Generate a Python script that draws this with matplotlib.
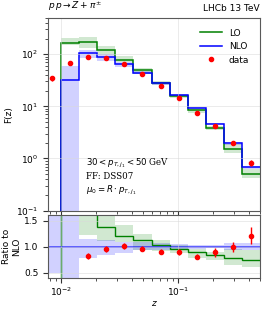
import numpy as np
import matplotlib
matplotlib.use("Agg")
import matplotlib.pyplot as plt
from matplotlib.lines import Line2D

# bin edges in z (log spaced)
edges = [0.00701, 0.01, 0.01427, 0.02036, 0.02906, 0.04147, 0.05918,
         0.08445, 0.1205, 0.172, 0.2454, 0.3502, 0.5]

# NLO prediction + scale band
nlo = [-15, 32.4, 106, 87.5, 64, 43.5, 27.5, 16.3, 9.4, 4.67, 1.97, 0.68]
nlo_lo = [-30, -10, 83, 74, 56, 41, 25.9, 15.6, 9.0, 4.53, 1.85, 0.63]
nlo_hi = [-7.5, 58.6, 122, 99, 70, 47, 29.2, 17.0, 9.7, 4.81, 2.09, 0.73]

# LO prediction + scale band
lo = [0, 161, 173, 121, 77, 49, 28.3, 15.6, 8.4, 3.92, 1.54, 0.51]
lo_lo = [0, 150, 129, 97, 70, 41, 25.3, 14.2, 7.3, 3.5, 1.26, 0.42]
lo_hi = [0, 207, 216, 145, 91, 54, 30.8, 16.8, 9.0, 4.2, 1.87, 0.63]

# LHCb data
data = [34.8, 68, 87, 84, 64.6, 41.8, 24.7, 14.5, 7.6, 4.16, 1.97, 0.82]
data_err = [4.2, 6.8, 6.0, 5.0, 3.6, 2.2, 1.3, 0.93, 0.51, 0.38, 0.19, 0.11]

edges = np.array(edges)
nlo, nlo_lo, nlo_hi = map(np.array, (nlo, nlo_lo, nlo_hi))
lo, lo_lo, lo_hi = map(np.array, (lo, lo_lo, lo_hi))
data, data_err = np.array(data), np.array(data_err)
centers = np.sqrt(edges[:-1] * edges[1:])

plt.rcParams["font.size"] = 6.5

fig = plt.figure(figsize=(2.67, 3.12), dpi=100)
ax = fig.add_axes([0.18, 0.325, 0.794, 0.618])
rax = fig.add_axes([0.18, 0.109, 0.794, 0.201], sharex=ax)

# ---- main panel
ax.set_xscale("log")
ax.set_yscale("log")
ax.stairs(lo_hi, edges, baseline=lo_lo, fill=True, color="green", alpha=0.18, lw=0)
ax.stairs(nlo_hi, edges, baseline=nlo_lo, fill=True, color="blue", alpha=0.18, lw=0)
ax.stairs(lo, edges, baseline=None, color="green", lw=1.1)
ax.stairs(nlo, edges, baseline=None, color="blue", lw=1.1)
ax.errorbar(centers, data, yerr=data_err, fmt="o", color="red", ms=3,
            elinewidth=1, capsize=0)

ax.set_xlim(0.00774, 0.5)
ax.set_ylim(0.1, 500)
ax.set_ylabel("F(z)", labelpad=2)
ax.grid(True, which="major", color="0.85", lw=0.6, alpha=0.6)
ax.tick_params(labelbottom=False)

handles = [Line2D([], [], color="green", lw=1.1),
           Line2D([], [], color="blue", lw=1.1),
           Line2D([], [], color="red", marker="o", ms=3, ls="none")]
ax.legend(handles, ["LO", "NLO", "data"], loc="upper right", frameon=False,
          fontsize=6.5, handlelength=2.4, borderaxespad=0.8)

ax.text(0.18, 0.28,
        "$30 < p_{T,j_1} < 50$ GeV\nFF: DSS07\n$\\mu_0 = R\\cdot p_{T,j_1}$",
        transform=ax.transAxes, va="top", ha="left", family="DejaVu Serif",
        fontsize=6.2, linespacing=1.3)
ax.text(0.0, 1.025, r"$p\,p \to Z + \pi^{\pm}$", transform=ax.transAxes,
        ha="left", va="bottom")
ax.text(1.0, 1.025, "LHCb 13 TeV", transform=ax.transAxes,
        ha="right", va="bottom")

# ---- ratio panel
with np.errstate(divide="ignore", invalid="ignore"):
    r_nlo = nlo / nlo
    r_nlo_a, r_nlo_b = nlo_lo / nlo, nlo_hi / nlo
    r_lo = lo / nlo
    r_lo_a, r_lo_b = lo_lo / nlo, lo_hi / nlo
    r_data = data / nlo
    r_err = data_err / np.abs(nlo)

rax.stairs(np.maximum(r_lo_a, r_lo_b), edges, baseline=np.minimum(r_lo_a, r_lo_b),
           fill=True, color="green", alpha=0.18, lw=0)
rax.stairs(np.maximum(r_nlo_a, r_nlo_b), edges, baseline=np.minimum(r_nlo_a, r_nlo_b),
           fill=True, color="blue", alpha=0.18, lw=0)
rax.stairs(r_lo, edges, baseline=None, color="green", lw=1.0)
rax.stairs(r_nlo, edges, baseline=None, color="blue", lw=1.1, alpha=0.7)
rax.errorbar(centers, r_data, yerr=r_err, fmt="o", color="red", ms=3,
             elinewidth=1, capsize=0)

rax.set_ylim(0.4, 1.6)
rax.set_yticks([0.5, 1.0, 1.5])
rax.set_ylabel("Ratio to\nNLO", labelpad=2)
rax.set_xlabel("$z$", labelpad=1)
rax.tick_params(axis="x", pad=2)
rax.grid(True, which="major", color="0.85", lw=0.6, alpha=0.6)

for a in (ax, rax):
    for s in a.spines.values():
        s.set_color("0.35")
    a.tick_params(which="both", colors="0.2", labelcolor="black")

fig.savefig("out.png", dpi=100)
